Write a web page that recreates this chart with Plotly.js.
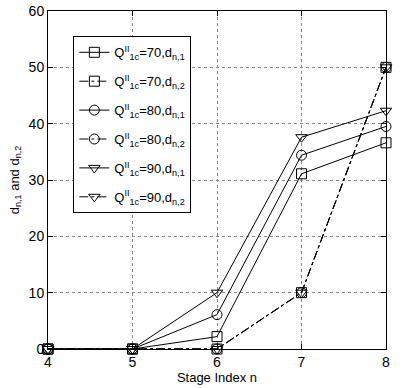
<!DOCTYPE html>
<html>
<head>
<meta charset="utf-8">
<script src="https://cdn.plot.ly/plotly-3.0.1.min.js"></script>
<style>
  html, body { margin: 0; padding: 0; background: #fff; }
  #chart { width: 415px; height: 388px; }
</style>
</head>
<body>
<div id="chart"></div>
<script>
// stage index
let stages = [4, 5, 6, 7, 8];

// d_{n,1} for Q = 70, 80, 90
let d1q70 = [0, 0, 2.2, 31.1, 36.6];
let d1q80 = [0, 0, 6.1, 34.4, 39.5];
let d1q90 = [0, 0, 10.0, 37.6, 42.3];

// d_{n,2} (same for all three)
let d2q70 = [0, 0, 0, 10, 50];
let d2q80 = [0, 0, 0, 10, 50];
let d2q90 = [0, 0, 0, 10, 50];

let qLabels = ['70', '80', '90'];
let markerSymbols = ['square-open', 'circle-open', 'triangle-down-open'];

function makeTrace(y, q, sym, which) {
    return {
        x: stages,
        y: y,
        mode: 'lines+markers',
        type: 'scatter',
        name: 'Q<sup>II</sup><sub>1c</sub>=' + q + ',d<sub>n,' + which + '</sub>',
        legendgroup: q + '-' + which,
        line: { color: '#000', width: 1, dash: which == 1 ? 'solid' : 'dashdot' },
        marker: { symbol: sym, size: 10, color: '#000', line: { color: '#000', width: 1 } },
        cliponaxis: false
    };
}

let traces = [
    makeTrace(d1q70, qLabels[0], markerSymbols[0], 1),
    makeTrace(d2q70, qLabels[0], markerSymbols[0], 2),
    makeTrace(d1q80, qLabels[1], markerSymbols[1], 1),
    makeTrace(d2q80, qLabels[1], markerSymbols[1], 2),
    makeTrace(d1q90, qLabels[2], markerSymbols[2], 1),
    makeTrace(d2q90, qLabels[2], markerSymbols[2], 2)
];

let axisStyle = {
    showline: true,
    mirror: 'ticks',
    linecolor: '#000',
    linewidth: 1,
    ticks: 'inside',
    ticklen: 5,
    tickcolor: '#000',
    showgrid: true,
    gridcolor: '#888',
    griddash: 'dot',
    gridwidth: 1,
    zeroline: false,
    tickfont: { size: 14, color: '#000' }
};

let layout = {
    width: 415,
    height: 388,
    margin: { l: 48, r: 29, t: 11, b: 39 },
    paper_bgcolor: '#fff',
    plot_bgcolor: '#fff',
    font: { family: 'Liberation Sans, Arial, sans-serif', size: 13, color: '#000' },
    showlegend: true,
    legend: {
        x: 0.075, y: 0.925,
        xanchor: 'left', yanchor: 'top',
        bgcolor: '#fff',
        bordercolor: '#000',
        borderwidth: 1,
        font: { size: 13, color: '#000' },
        traceorder: 'grouped',
        tracegroupgap: 9
    },
    xaxis: Object.assign({}, axisStyle, {
        range: [4, 8],
        tickvals: stages,
        title: { text: 'Stage Index n', font: { size: 13 }, standoff: 4 }
    }),
    yaxis: Object.assign({}, axisStyle, {
        range: [0, 60],
        dtick: 10,
        title: { text: 'd<sub>n,1</sub> and d<sub>n,2</sub>', font: { size: 13 }, standoff: 6 }
    })
};

Plotly.newPlot('chart', traces, layout, { displayModeBar: false, staticPlot: true });
</script>
</body>
</html>
